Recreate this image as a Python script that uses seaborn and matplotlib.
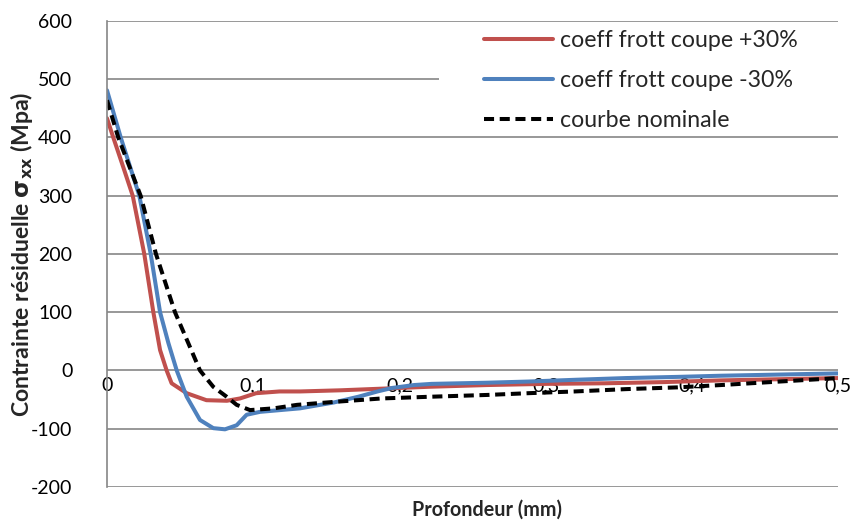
import numpy as np
import pandas as pd
import matplotlib
matplotlib.use('Agg')
import matplotlib.pyplot as plt
import matplotlib.patches as mpatches
import seaborn as sns

# coeff frott coupe +30%
x_plus = [0, 0.0043, 0.011, 0.0176, 0.0255, 0.0317, 0.0363, 0.0408, 0.0442, 0.0545, 0.068, 0.082,
          0.091, 0.102, 0.118, 0.132, 0.16, 0.19, 0.22, 0.26, 0.3, 0.34, 0.38, 0.42, 0.46, 0.5]
y_plus = [433, 400, 350, 300, 200, 100, 35, 0, -22, -39, -51, -52,
          -48, -39, -36, -36, -34, -31, -28, -25, -23, -22, -20, -17, -15, -13]

# coeff frott coupe -30%
x_minus = [0, 0.0094, 0.0221, 0.0299, 0.0363, 0.042, 0.0477, 0.0545, 0.0636, 0.0727, 0.0807,
           0.0887, 0.0955, 0.1047, 0.132, 0.155, 0.172, 0.185, 0.195, 0.21, 0.222,
           0.26, 0.288, 0.32, 0.355, 0.39, 0.42, 0.46, 0.5]
y_minus = [481, 400, 300, 200, 100, 47, 0, -45, -85, -99, -101,
           -94, -76, -71, -65, -55, -45, -36, -30, -25, -23,
           -21, -19, -16, -13, -11, -9, -7, -5]

# courbe nominale
x_nom = [0, 0.0077, 0.023, 0.0335, 0.0465, 0.0556, 0.0636, 0.0727, 0.0818, 0.0887, 0.0978, 0.114,
         0.13, 0.155, 0.188, 0.222, 0.26, 0.288, 0.32, 0.355, 0.39, 0.42, 0.46, 0.5]
y_nom = [464, 400, 300, 200, 100, 47, 0, -28, -45, -59, -68, -65,
         -59, -54, -48, -45, -42, -39, -36, -32, -29, -25, -19, -13]

labels = ['coeff frott coupe +30%', 'coeff frott coupe -30%', 'courbe nominale']
xticks = [0, 0.1, 0.2, 0.3, 0.4, 0.5]
xtick_labels = ['0', '0,1', '0,2', '0,3', '0,4', '0,5']
yticks = [-200, -100, 0, 100, 200, 300, 400, 500, 600]

sns.set_style('white')
plt.rcParams['font.family'] = ['Lato', 'DejaVu Sans']
plt.rcParams['axes.unicode_minus'] = False

fig = plt.figure(figsize=(8.56, 5.21), dpi=100)
ax = fig.add_axes([0.125, 0.0653, 0.854, 0.8944])

df_plus = pd.DataFrame({'x': x_plus, 'y': y_plus})
df_minus = pd.DataFrame({'x': x_minus, 'y': y_minus})
df_nom = pd.DataFrame({'x': x_nom, 'y': y_nom})

sns.lineplot(data=df_plus, x='x', y='y', ax=ax, color='#C0504D', lw=2.9, sort=False,
             estimator=None, label=labels[0])
sns.lineplot(data=df_minus, x='x', y='y', ax=ax, color='#4F81BD', lw=2.9, sort=False,
             estimator=None, label=labels[1])
sns.lineplot(data=df_nom, x='x', y='y', ax=ax, color='black', lw=2.9, sort=False,
             estimator=None, label=labels[2])
ax.lines[-1].set_dashes((2.5, 1.4))

ax.set_xlim(0, 0.5)
ax.set_ylim(-200, 600)
ax.set_yticks(yticks)
ax.set_xticks(xticks)
ax.set_xticklabels(xtick_labels)
ax.grid(axis='y', color='#868686', lw=1.2)
ax.set_axisbelow(True)

for s in ['top', 'right']:
    ax.spines[s].set_visible(False)
ax.spines['left'].set_color('#868686')
ax.spines['left'].set_linewidth(1.2)
ax.spines['bottom'].set_position(('data', 0))
ax.spines['bottom'].set_visible(False)
ax.tick_params(axis='both', length=0, labelsize=14, colors='black')
ax.tick_params(axis='y', pad=25)
ax.tick_params(axis='x', pad=5)

ax.set_xlabel('Profondeur (mm)', fontsize=14.2, fontweight='bold')
ax.xaxis.set_label_coords(0.5205, -0.027)
ax.set_ylabel(r'Contrainte résiduelle $\mathbf{\sigma_{xx}}$ (Mpa)', fontsize=16.6, fontweight='bold')
ax.yaxis.set_label_coords(-0.099, 0.5)

# white legend area hiding the gridline behind it, as in the Excel chart
legend_bg = mpatches.Rectangle((439 / 856, 1 - 135 / 521), (838 - 439) / 856, (135 - 23) / 521,
                               transform=fig.transFigure, facecolor='white', edgecolor='none',
                               zorder=1)
ax.add_patch(legend_bg)

leg = ax.legend(loc='upper left', bbox_to_anchor=(0.560, 0.952), bbox_transform=fig.transFigure,
                fontsize=16.7, frameon=False, handlelength=2.97, handletextpad=0.3,
                labelspacing=0.82, borderpad=0.2, borderaxespad=0)

fig.savefig('out.png', dpi=100)
